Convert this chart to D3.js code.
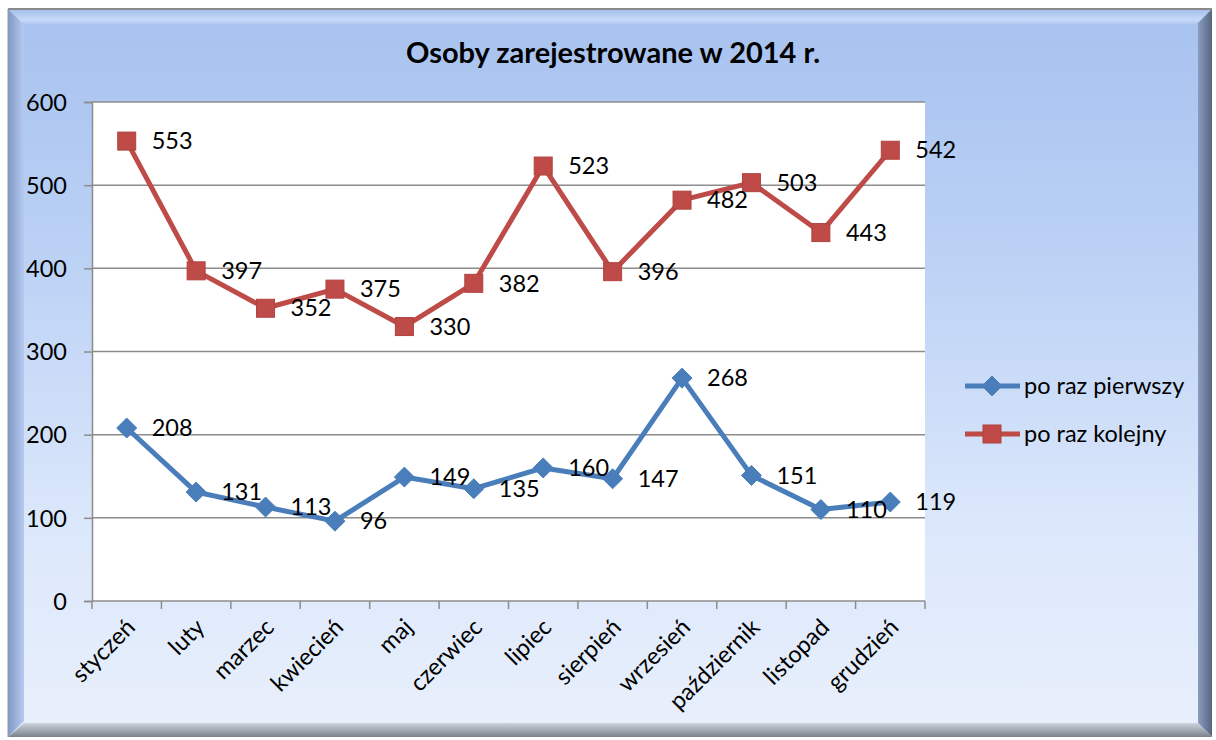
<!DOCTYPE html>
<html><head><meta charset="utf-8">
<script src="https://cdn.jsdelivr.net/npm/d3@7"></script>
<style>body{margin:0;background:#fff;}svg{display:block;font-family:Lato,"Liberation Sans",sans-serif;}</style>
</head><body>
<svg id="c" width="1216" height="740"></svg>
<script>
const categories = ["styczeń","luty","marzec","kwiecień","maj","czerwiec","lipiec","sierpień","wrzesień","październik","listopad","grudzień"];
const firstTime = [208,131,113,96,149,135,160,147,268,151,110,119];
const nextTime = [553,397,352,375,330,382,523,396,482,503,443,542];
const yTicks = [0,100,200,300,400,500,600];
const seriesNames = ["po raz pierwszy","po raz kolejny"];
const titleText = "Osoby zarejestrowane w 2014 r.";

const FS = 23.5;
const svg = d3.select("#c");
const defs = svg.append("defs");
function lg(id, x2, y2, stops){
  const g = defs.append("linearGradient").attr("id",id).attr("x1",0).attr("y1",0).attr("x2",x2).attr("y2",y2);
  stops.forEach(s=>g.append("stop").attr("offset",s[0]).attr("stop-color",s[1]));
}
lg("bg",0,1,[[0,"#a7c2ef"],[0.35,"#bcd2f5"],[0.7,"#dbe7fb"],[1,"#e9f0fc"]]);
lg("topb",0,1,[[0,"#a4bdea"],[0.7,"#c6dbfa"],[1,"#a9c3ef"]]);
lg("leftb",1,0,[[0,"#8198c6"],[1,"#b6caf0"]]);
lg("rightb",1,0,[[0,"#8a9cc0"],[1,"#56667f"]]);
lg("botb",0,1,[[0,"#cdd3dc"],[1,"#7c828c"]]);

const L=8,T=9,R=1212,B=737,bw=16;
svg.append("rect").attr("x",L).attr("y",T).attr("width",R-L).attr("height",B-T).attr("fill","url(#bg)");
svg.append("polygon").attr("points",`${L},${T} ${R},${T} ${R-bw},${T+bw} ${L+bw},${T+bw}`).attr("fill","url(#topb)");
svg.append("polygon").attr("points",`${L},${T} ${L+bw},${T+bw} ${L+bw},${B-bw} ${L},${B}`).attr("fill","url(#leftb)");
svg.append("polygon").attr("points",`${R},${T} ${R},${B} ${R-bw+2},${B-bw+2} ${R-bw+2},${T+bw-2}`).attr("fill","url(#rightb)");
svg.append("polygon").attr("points",`${L},${B} ${R},${B} ${R-bw+2},${B-bw+2} ${L+bw},${B-bw+2}`).attr("fill","url(#botb)");
svg.append("line").attr("x1",L).attr("x2",R).attr("y1",T).attr("y2",T).attr("stroke","#8a8a8a").attr("stroke-width",2);
svg.append("line").attr("x1",L).attr("x2",L).attr("y1",T).attr("y2",B).attr("stroke","#9a9a9a").attr("stroke-width",1);

svg.append("text").attr("x",613).attr("y",63).attr("text-anchor","middle")
  .attr("font-weight","bold").attr("font-size",29).attr("fill","#000").text(titleText);

const pl=92, pr=925, pt=102, pb=601;
const x = d3.scaleBand().domain(categories).range([pl,pr]);
const y = d3.scaleLinear().domain([0,600]).range([pb,pt]);

svg.append("rect").attr("x",pl).attr("y",pt).attr("width",pr-pl).attr("height",pb-pt).attr("fill","#fff");

// gridlines
svg.append("g").selectAll("line").data(yTicks.filter(d=>d>0)).join("line")
  .attr("x1",pl).attr("x2",pr).attr("y1",d=>y(d)).attr("y2",d=>y(d))
  .attr("stroke","#8c8c8c").attr("stroke-width",1.5);

// y axis
const ya = svg.append("g").attr("transform",`translate(${pl},0)`)
  .call(d3.axisLeft(y).tickValues(yTicks).tickSize(8).tickPadding(17));
ya.select(".domain").attr("stroke","#8c8c8c").attr("stroke-width",1.5);
ya.selectAll(".tick line").attr("stroke","#8c8c8c").attr("stroke-width",1.5);
ya.selectAll("text").attr("font-size",FS).attr("font-family","Lato,sans-serif").attr("fill","#000").attr("dy","0.35em");

// x axis
const xa = svg.append("g").attr("transform",`translate(0,${pb})`);
xa.append("line").attr("x1",pl).attr("x2",pr).attr("stroke","#8c8c8c").attr("stroke-width",1.5);
const edges = d3.range(categories.length+1).map(i=>pl+i*x.step());
xa.selectAll("line.t").data(edges).join("line").attr("class","t")
  .attr("x1",d=>d).attr("x2",d=>d).attr("y1",0).attr("y2",8).attr("stroke","#8c8c8c").attr("stroke-width",1.5);
xa.selectAll("text").data(categories).join("text")
  .attr("text-anchor","end").attr("font-size",FS).attr("fill","#000")
  .attr("transform",d=>`translate(${x(d)+x.bandwidth()/2+4},${22}) rotate(-45)`)
  .attr("dy","0.35em").text(d=>d);

const series = [
  {name:seriesNames[0], values:firstTime, color:"#4a7ebb", shape:"diamond"},
  {name:seriesNames[1], values:nextTime, color:"#be4b48", shape:"square"}
];
const cx = d=>x(d)+x.bandwidth()/2;
function marker(g, shape, color){
  if(shape==="diamond"){
    g.append("path").attr("d","M0,-10L10,0L0,10L-10,0Z").attr("fill",color).attr("stroke",color).attr("stroke-width",1);
  } else {
    g.append("rect").attr("x",-9).attr("y",-9).attr("width",18).attr("height",18).attr("fill",color).attr("stroke","#b0433f").attr("stroke-width",1);
  }
}
series.forEach(s=>{
  const line = d3.line().x((v,i)=>cx(categories[i])).y(v=>y(v));
  svg.append("path").attr("d",line(s.values)).attr("fill","none").attr("stroke",s.color)
    .attr("stroke-width",5).attr("stroke-linejoin","round");
  s.values.forEach((v,i)=>{
    const g = svg.append("g").attr("transform",`translate(${cx(categories[i])},${y(v)})`);
    marker(g, s.shape, s.color);
  });
  svg.append("g").selectAll("text").data(s.values).join("text")
    .attr("x",(v,i)=>cx(categories[i])+25).attr("y",v=>y(v)).attr("dy","0.35em")
    .attr("font-size",FS).attr("fill","#000").text(v=>v);
});

// legend
series.forEach((s,i)=>{
  const ly = 386 + i*48;
  svg.append("line").attr("x1",965).attr("x2",1020).attr("y1",ly).attr("y2",ly).attr("stroke",s.color).attr("stroke-width",5);
  const g = svg.append("g").attr("transform",`translate(992,${ly})`);
  marker(g, s.shape, s.color);
  svg.append("text").attr("x",1024).attr("y",ly).attr("dy","0.35em").attr("font-size",FS).attr("fill","#000").text(s.name);
});
</script>
</body></html>
